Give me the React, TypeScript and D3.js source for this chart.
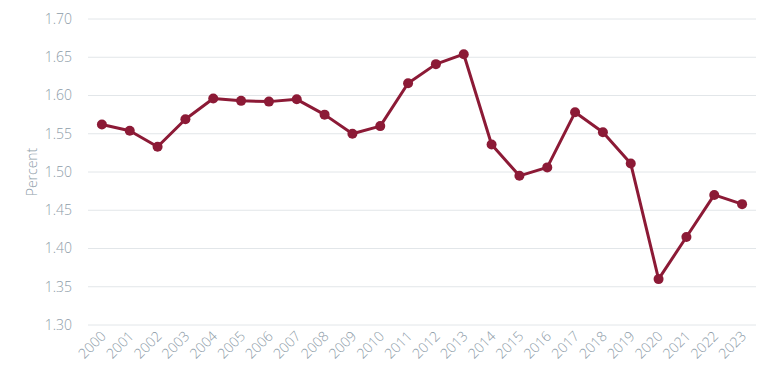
import { useEffect, useRef } from "react";
import * as d3 from "d3";

// data
const years = [
  "2000", "2001", "2002", "2003", "2004", "2005", "2006", "2007", "2008", "2009", "2010", "2011",
  "2012", "2013", "2014", "2015", "2016", "2017", "2018", "2019", "2020", "2021", "2022", "2023",
];
const percent = [
  1.562, 1.554, 1.533, 1.569, 1.596, 1.593, 1.592, 1.595, 1.575, 1.55, 1.56, 1.616,
  1.641, 1.654, 1.536, 1.495, 1.506, 1.578, 1.552, 1.511, 1.36, 1.415, 1.47, 1.458,
];
const yTicks = [1.3, 1.35, 1.4, 1.45, 1.5, 1.55, 1.6, 1.65, 1.7];

const WIDTH = 776;
const HEIGHT = 385;
const LINE = "#8c1a36";
const TEXT = "#8d9ca8";
const GRID = "#e2e6e9";
const FONT = "'Open Sans', 'Noto Sans', sans-serif";

export default function App() {
  const ref = useRef<SVGSVGElement>(null);

  useEffect(() => {
    const svg = d3.select(ref.current);
    svg.selectAll("*").remove();

    const x = d3.scaleBand().domain(years).range([88, 756]);
    const y = d3.scaleLinear().domain([1.3, 1.7]).range([325, 19]);
    const cx = (d: string) => (x(d) ?? 0) + x.bandwidth() / 2;

    // grid lines
    svg
      .append("g")
      .selectAll("line")
      .data(yTicks)
      .join("line")
      .attr("x1", 88)
      .attr("x2", 756)
      .attr("y1", (d) => y(d))
      .attr("y2", (d) => y(d))
      .attr("stroke", GRID)
      .attr("stroke-width", 1);

    // y tick labels
    svg
      .append("g")
      .selectAll("text")
      .data(yTicks)
      .join("text")
      .attr("x", 72)
      .attr("y", (d) => y(d))
      .attr("dy", "0.35em")
      .attr("text-anchor", "end")
      .attr("fill", TEXT)
      .style("font", `300 14px ${FONT}`)
      .text((d) => d3.format(".2f")(d));

    // y axis title
    svg
      .append("text")
      .attr("transform", `translate(37,172) rotate(-90)`)
      .attr("text-anchor", "middle")
      .attr("fill", TEXT)
      .style("font", `300 14px ${FONT}`)
      .text("Percent");

    // x tick labels (rotated)
    svg
      .append("g")
      .selectAll("text")
      .data(years)
      .join("text")
      .attr("transform", (d) => `translate(${cx(d) + 5},${337}) rotate(-45)`)
      .attr("text-anchor", "end")
      .attr("fill", TEXT)
      .style("font", `300 14px ${FONT}`)
      .text((d) => d);

    const pts = years.map((d, i) => [cx(d), y(percent[i])] as [number, number]);

    svg
      .append("path")
      .attr("d", d3.line()(pts))
      .attr("fill", "none")
      .attr("stroke", LINE)
      .attr("stroke-width", 3)
      .attr("stroke-linejoin", "round");

    svg
      .append("g")
      .selectAll("circle")
      .data(pts)
      .join("circle")
      .attr("cx", (d) => d[0])
      .attr("cy", (d) => d[1])
      .attr("r", 5)
      .attr("fill", LINE);
  }, []);

  return (
    <svg
      ref={ref}
      width={WIDTH}
      height={HEIGHT}
      style={{ position: "absolute", left: 0, top: 0, background: "#fff" }}
    />
  );
}
